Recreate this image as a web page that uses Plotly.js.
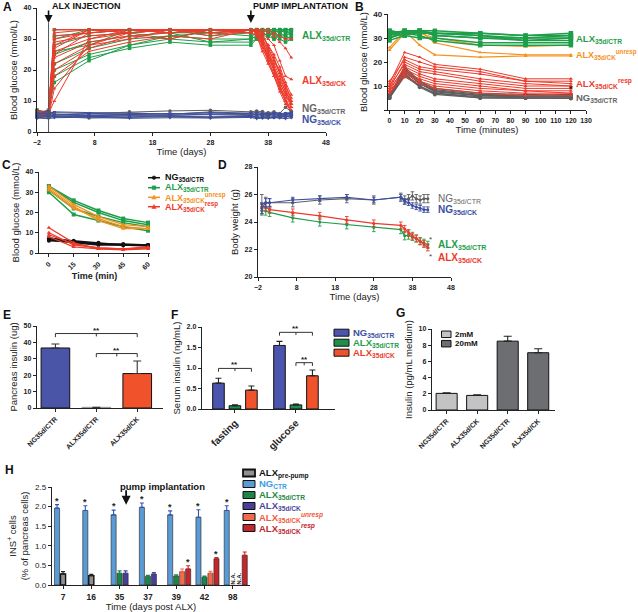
<!DOCTYPE html>
<html>
<head>
<meta charset="utf-8">
<script src="https://cdn.plot.ly/plotly-3.0.1.min.js"></script>
<style>html,body{margin:0;padding:0;background:#fff;}#chart{width:638px;height:612px;}</style>
</head>
<body>
<div id="chart"></div>
<script>
// ================= DATA =================
// Panel A: blood glucose (mmol/L) per mouse over days
const tA = [-2, 0, 1, 7, 14, 21, 28, 35, 36, 37, 38, 39, 40, 41, 42];
const aALXCTR = [
  [6, 6, 33, 33, 33, 33, 33, 33, 33, 33, 33, 33, 33, 33, 33],
  [5, 6, 31, 32, 33, 33, 33, 33, 33, 32, 33, 33, 33, 33, 33],
  [7, 5, 28, 31, 32, 33, 31, 32, 33, 33, 32, 33, 32, 33, 33],
  [6, 7, 25, 29, 31, 32, 32, 33, 32, 33, 33, 31, 33, 32, 32],
  [5, 6, 22, 27, 30, 31, 30, 30, 31, 32, 31, 32, 31, 30, 31],
  [6, 5, 20, 25, 28, 30, 29, 29, 30, 31, 32, 30, 31, 31, 32],
  [7, 6, 18, 24, 27, 29, 28, 28, 30, 32, 31, 32, 30, 29, 30],
  [5, 7, 16, 23, 28, 31, 32, 31, 30, 29, 31, 30, 32, 31, 30],
  [6, 6, 30, 33, 32, 30, 33, 32, 33, 32, 31, 33, 32, 33, 31],
  [6, 5, 26, 28, 33, 32, 29, 30, 33, 33, 33, 32, 33, 32, 33]
];
const aALXCK = [
  [6, 7, 33, 33, 33, 33, 33, 33, 33, 31, 28, 24, 19, 14, 9],
  [5, 6, 32, 33, 33, 33, 33, 33, 32, 29, 25, 21, 16, 12, 8],
  [7, 5, 30, 32, 33, 33, 33, 33, 33, 30, 26, 22, 18, 13, 10],
  [6, 6, 29, 31, 32, 33, 33, 32, 31, 27, 23, 19, 14, 10, 7],
  [5, 7, 27, 33, 33, 32, 33, 33, 32, 28, 24, 20, 15, 11, 6],
  [6, 6, 26, 30, 32, 33, 31, 33, 33, 32, 27, 23, 20, 15, 11],
  [7, 6, 24, 29, 31, 32, 33, 33, 32, 30, 26, 21, 17, 13, 9],
  [5, 5, 22, 28, 30, 33, 32, 32, 31, 26, 22, 18, 14, 10, 8],
  [6, 7, 20, 27, 31, 30, 33, 33, 33, 31, 28, 25, 21, 16, 12],
  [6, 6, 18, 26, 29, 31, 30, 33, 32, 29, 24, 20, 16, 12, 9],
  [7, 5, 14, 28, 32, 33, 32, 33, 33, 30, 27, 23, 19, 15, 10],
  [5, 6, 10, 30, 33, 33, 33, 32, 33, 33, 32, 31, 29, 27, 24],
  [6, 7, 31, 32, 33, 32, 33, 33, 33, 32, 30, 28, 23, 18, 17],
  [6, 6, 33, 33, 33, 33, 33, 33, 33, 33, 33, 32, 31, 30, 30],
  [5, 6, 28, 33, 32, 33, 33, 33, 33, 29, 25, 20, 15, 10, 6],
  [7, 6, 25, 32, 33, 33, 32, 33, 32, 28, 23, 18, 13, 9, 7]
];
const aNGCTR = [
  [5.2, 5.0, 5.1, 4.8, 5.3, 5.0, 4.9, 5.1, 5.0, 4.8, 5.2, 5.0, 4.9, 5.1, 5.3],
  [6.0, 5.8, 5.5, 5.9, 6.2, 5.7, 6.5, 6.0, 6.2, 5.9, 6.1, 5.8, 5.6, 6.0, 5.9],
  [4.6, 4.8, 5.0, 4.5, 4.7, 4.9, 4.6, 5.0, 4.8, 4.6, 4.9, 4.7, 4.8, 5.0, 4.8],
  [7.0, 6.5, 6.2, 6.0, 6.5, 6.8, 7.0, 6.5, 6.8, 6.6, 6.2, 6.5, 6.0, 8.0, 6.5],
  [5.5, 6.2, 5.8, 5.2, 5.6, 5.4, 5.8, 5.6, 5.3, 5.7, 5.5, 5.9, 5.4, 5.6, 5.8]
];
const aNGCK = [
  [5.5, 6.8, 5.5, 5.8, 5.6, 6.0, 5.8, 6.1, 5.5, 5.8, 5.6, 5.9, 5.7, 5.8, 6.0],
  [4.6, 5.0, 4.8, 5.0, 4.9, 5.2, 4.8, 5.0, 4.6, 4.8, 4.5, 4.8, 4.7, 5.0, 5.2],
  [6.2, 5.8, 6.5, 6.2, 6.0, 5.8, 6.3, 5.9, 6.4, 6.0, 5.8, 6.2, 5.9, 6.1, 6.3],
  [5.0, 5.5, 5.2, 5.4, 5.5, 5.4, 5.6, 5.3, 5.8, 5.2, 5.3, 5.5, 5.2, 5.4, 5.6],
  [4.5, 4.3, 4.6, 4.8, 4.4, 4.6, 4.5, 4.7, 4.3, 4.5, 4.4, 4.6, 4.5, 4.3, 4.6]
];

// Panel B: glucose tolerance (minutes)
const tB = [0, 10, 20, 30, 60, 90, 120];
const bALXCTR = [
  [33, 32, 33, 32, 31, 30, 30], [32, 33, 33, 33, 32, 31, 31], [31, 33, 32, 32, 31, 29, 29],
  [30, 33, 33, 31, 30, 30, 31], [29, 31, 30, 30, 28, 28, 28], [33, 32, 32, 32, 32, 31, 32],
  [30, 32, 31, 29, 27, 27, 27], [32, 31, 33, 31, 30, 29, 30]
];
const bUnresp = [
  [25, 32, 33, 28, 24, 23, 23], [26, 33, 27, 23, 22, 22.5, 22.5], [31, 33, 32, 30, 27, 26.5, 27]
];
const bResp = [
  [11, 24, 22, 19, 17, 13, 13], [10, 22, 20, 18, 16, 12, 12], [12, 21, 18, 17, 15, 12, 11],
  [9, 20, 17, 16, 13, 11, 10], [10, 19, 16, 15, 12, 10, 10], [8, 18, 15, 13, 11, 9, 9],
  [9, 17, 14, 12, 10, 8, 8], [7, 16, 13, 11, 9, 8, 7], [8, 15, 12, 10, 8, 7, 7], [7, 14, 11, 9, 7, 6, 6]
];
const bNGCTR = [
  [6, 17, 12, 8, 6, 6, 6], [5, 16, 11, 8, 6, 5.5, 5.5], [5.5, 15, 10, 7, 5.5, 5, 5],
  [6, 18, 12, 9, 7, 6.5, 6], [5, 14, 10, 7, 5, 5, 5], [6.5, 16, 11, 8.5, 6.5, 6, 6.5],
  [5, 15, 9.5, 6.5, 5, 5, 4.8], [6, 17, 11, 7.5, 6, 5.5, 5.5]
];

// Panel C: insulin tolerance (min)
const tC = [0, 15, 30, 45, 60];
const cNGCTR = [[7, 6, 5, 4, 4], [6, 5.5, 4.5, 4, 4], [6.5, 5, 4, 4, 3.5], [7.5, 5.5, 4.5, 4.5, 4]];
const cALXCTR = [[33, 25, 20, 16, 14], [30, 19, 16, 13, 11], [33, 26, 21, 17, 15], [31, 22, 18, 15, 13]];
const cUnresp = [[33, 24, 18, 14, 13], [31, 22, 17, 13, 12], [32, 23, 16, 12, 12]];
const cResp = [[12.5, 5, 2, 2, 2.5], [10, 4, 2.5, 2, 2.5], [8, 3, 2, 1.5, 2], [9, 4.5, 2.5, 2, 3]];

// Panel D: body weight (g), mean and error
const tD = [-1, 0, 1, 7, 14, 21, 28, 35, 36, 37, 38, 39, 40, 41, 42];
const dNGCTR = [25.3, 25.4, 25.4, 25.4, 25.6, 25.7, 25.6, 25.8, 25.6, 25.7, 25.9, 25.7, 25.6, 25.7, 25.7];
const dNGCTRerr = [0.7, 0.4, 0.3, 0.3, 0.3, 0.3, 0.3, 0.3, 0.3, 0.3, 0.3, 0.3, 0.3, 0.3, 0.3];
const dNGCK = [25.0, 25.4, 25.4, 25.6, 25.7, 25.8, 25.6, 25.8, 25.5, 25.4, 25.2, 25.1, 25.0, 24.9, 24.9];
const dNGCKerr = [0.4, 0.3, 0.3, 0.2, 0.2, 0.2, 0.2, 0.2, 0.2, 0.2, 0.2, 0.2, 0.2, 0.2, 0.2];
const dALXCTR = [24.8, 24.8, 24.7, 24.3, 24.0, 23.8, 23.6, 23.45, 23.0, 23.05, 22.9, 22.8, 22.6, 22.5, 22.35];
const dALXCTRerr = [0.3, 0.3, 0.3, 0.3, 0.3, 0.3, 0.3, 0.3, 0.3, 0.3, 0.25, 0.25, 0.25, 0.25, 0.25];
const dALXCK = [25.1, 25.1, 24.9, 24.7, 24.45, 24.15, 23.9, 23.75, 23.5, 23.2, 23.0, 22.8, 22.6, 22.4, 22.15];
const dALXCKerr = [0.25, 0.25, 0.25, 0.25, 0.25, 0.25, 0.25, 0.25, 0.25, 0.25, 0.25, 0.25, 0.25, 0.25, 0.25];

// Panel E: pancreas insulin (ug)
const eCats = ['NG35d/CTR', 'ALX35d/CTR', 'ALX35d/CK'];
const eVals = [36.6, 0.4, 21.0];
const eErr = [2.4, 0.1, 7.7];

// Panel F: serum insulin (ng/mL)
const fCats = ['fasting', 'glucose'];
const fNGCTR = [0.63, 1.55], fNGCTRerr = [0.12, 0.10];
const fALXCTR = [0.08, 0.10], fALXCTRerr = [0.02, 0.02];
const fALXCK = [0.46, 0.81], fALXCKerr = [0.10, 0.14];

// Panel G: insulin (pg/mL medium)
const gCats = ['NG35d/CTR', 'ALX35d/CK', 'NG35d/CTR', 'ALX35d/CK'];
const g2mM = [2.05, 1.8], g2mMerr = [0.08, 0.08];
const g20mM = [8.5, 7.07], g20mMerr = [0.6, 0.5];

// Panel H: INS+ cells (% of pancreas cells)
const hDays = ['7', '16', '35', '37', '39', '42', '98'];
const hNG = [1.96, 1.90, 1.79, 1.98, 1.79, 1.73, 1.90];
const hNGerr = [0.09, 0.12, 0.12, 0.11, 0.10, 0.19, 0.12];
const hPre = [0.28, 0.24, null, null, null, null, null];
const hPreErr = [0.06, 0.03, null, null, null, null, null];
const hCTR = [null, null, 0.30, 0.22, 0.23, 0.20, 'N.A.'];
const hCTRerr = [null, null, 0.06, 0.03, 0.03, 0.03, null];
const hCK = [null, null, 0.30, 0.28, null, null, null];
const hCKerr = [null, null, 0.06, 0.04, null, null, null];
const hUnresp = [null, null, null, null, 0.34, 0.30, 'N.A.'];
const hUnrespErr = [null, null, null, null, 0.07, 0.05, null];
const hResp = [null, null, null, null, 0.41, 0.67, 0.76];
const hRespErr = [null, null, null, null, 0.08, 0.03, 0.08];
const hSigNG = [true, true, true, true, true, true, true];
const hSigResp = [false, false, false, false, true, true, false];

// ================= STYLE =================
const W = 638, H = 612;
const FONT = 'Liberation Sans, Arial, sans-serif';
const GREEN = '#1f9e4a', RED = '#ee3a2b', ORANGE = '#f6921e', GRAY = '#5e5e5e', BLUE = '#3d4fa3', BLACK = '#111111';
const dx = (a, b) => [a / W, b / W];
const dy = (top, bot) => [1 - bot / H, 1 - top / H];
const px = v => v / W, py = v => 1 - v / H;

const traces = [];
const shapes = [];
const annotations = [];

function lineGroup(rows, t, color, symbol, xa, ya, size, lw) {
  rows.forEach(r => traces.push({
    type: 'scatter', mode: 'lines+markers', x: t, y: r, xaxis: xa, yaxis: ya,
    line: {color: color, width: lw || 1}, marker: {color: color, size: size || 3.5, symbol: symbol},
    showlegend: false, cliponaxis: false, hoverinfo: 'skip'
  }));
}
// A
lineGroup(aALXCTR, tA, GREEN, 'square', 'x', 'y', 3.5, 1);
lineGroup(aALXCK, tA, RED, 'triangle-up', 'x', 'y', 3.5, 1);
lineGroup(aNGCTR, tA, GRAY, 'circle', 'x', 'y', 3.5, 1);
lineGroup(aNGCK, tA, BLUE, 'triangle-down', 'x', 'y', 3.5, 1);
// B
lineGroup(bNGCTR, tB, GRAY, 'circle', 'x2', 'y2', 4, 1.2);
lineGroup(bResp, tB, RED, 'triangle-up', 'x2', 'y2', 3.5, 1);
lineGroup(bUnresp, tB, ORANGE, 'triangle-up', 'x2', 'y2', 3.5, 1.2);
lineGroup(bALXCTR, tB, GREEN, 'square', 'x2', 'y2', 4.5, 1.5);
// C
lineGroup(cALXCTR, tC, GREEN, 'square', 'x3', 'y3', 4, 1.5);
lineGroup(cUnresp, tC, ORANGE, 'triangle-up', 'x3', 'y3', 4, 1.3);
lineGroup(cNGCTR, tC, BLACK, 'circle', 'x3', 'y3', 4, 1.5);
lineGroup(cResp, tC, RED, 'triangle-up', 'x3', 'y3', 4, 1.2);
// D
[[dALXCTR, dALXCTRerr, GREEN], [dALXCK, dALXCKerr, RED], [dNGCTR, dNGCTRerr, GRAY], [dNGCK, dNGCKerr, BLUE]].forEach(s => {
  traces.push({type: 'scatter', mode: 'lines+markers', x: tD, y: s[0], xaxis: 'x4', yaxis: 'y4',
    line: {color: s[2], width: 1.2}, marker: {color: s[2], size: 3},
    error_y: {type: 'data', array: s[1], color: s[2], thickness: 0.9, width: 1.8},
    showlegend: false, cliponaxis: false, hoverinfo: 'skip'});
});

// bar helpers
function upErr(arr, color, w) {
  return {type: 'data', symmetric: false, array: arr, arrayminus: arr.map(() => 0), color: color, thickness: 1.1, width: w};
}
// E
traces.push({type: 'bar', x: eCats.map((_, i) => i), y: eVals, width: 0.7, xaxis: 'x5', yaxis: 'y5',
  marker: {color: ['#4b55a8', '#1f8f4a', '#f0522c'], line: {color: ['#111', '#999', '#111'], width: 1}},
  error_y: upErr(eErr, '#333', 4), showlegend: false, hoverinfo: 'skip'});
// F
const fSeries = [[fNGCTR, fNGCTRerr, '#4b55ad'], [fALXCTR, fALXCTRerr, '#1f8f4a'], [fALXCK, fALXCKerr, '#f0522c']];
fSeries.forEach((s, si) => traces.push({type: 'bar', x: fCats.map((_, i) => i + (si - 1) * 0.27), y: s[0], width: 0.19,
  xaxis: 'x6', yaxis: 'y6', marker: {color: s[2], line: {color: '#111', width: 1}},
  error_y: upErr(s[1], '#222', 3), showlegend: false, hoverinfo: 'skip'}));
// G
traces.push({type: 'bar', x: [0, 1], y: g2mM, width: 0.69, xaxis: 'x7', yaxis: 'y7',
  marker: {color: '#c3c3c5', line: {color: '#111', width: 1}}, error_y: upErr(g2mMerr, '#222', 4), showlegend: false, hoverinfo: 'skip'});
traces.push({type: 'bar', x: [2, 3], y: g20mM, width: 0.69, xaxis: 'x7', yaxis: 'y7',
  marker: {color: '#6d6e72', line: {color: '#111', width: 1}}, error_y: upErr(g20mMerr, '#222', 4), showlegend: false, hoverinfo: 'skip'});
// H: slot order within each day group
const hSlotOrder = [
  {v: hNG, e: hNGerr, c: '#5a9bd6', ec: '#3450b0', lc: '#222'},
  {v: hPre, e: hPreErr, c: '#909090', ec: '#222', lc: '#111'},
  {v: hCTR, e: hCTRerr, c: '#1e8449', ec: '#1e8449', lc: '#222'},
  {v: hCK, e: hCKerr, c: '#4a3f98', ec: '#4a3f98', lc: '#222'},
  {v: hUnresp, e: hUnrespErr, c: '#f26b4c', ec: '#f26b4c', lc: '#222'},
  {v: hResp, e: hRespErr, c: '#c1272d', ec: '#c1272d', lc: '#222'}
];
const SLOT = 0.212, HBW = 0.18;
hSlotOrder.forEach(s => s.x = hDays.map(() => null));
hDays.forEach((d, g) => {
  let k = 0;
  hSlotOrder.forEach(s => { if (s.v[g] !== null) { s.x[g] = g + (k - 1) * SLOT; k++; } });
});
hSlotOrder.forEach(s => {
  const yv = s.v.map(v => (typeof v === 'number' ? v : null));
  const ev = s.e.map(v => (v === null ? 0 : v));
  traces.push({type: 'bar', x: s.x, y: yv, width: HBW, xaxis: 'x8', yaxis: 'y8',
    marker: {color: s.c, line: {color: s.lc, width: s.v === hPre ? 1.4 : 0.6}},
    error_y: upErr(ev, s.ec, 2), showlegend: false, hoverinfo: 'skip'});
  s.v.forEach((v, g) => { if (v === 'N.A.') annotations.push({xref: 'x8', yref: 'y8', x: s.x[g], y: 0.15, text: 'N.A.', textangle: -90, showarrow: false, font: {family: FONT, size: 6, color: '#222', weight: 'bold'}}); });
});
function star(xa, ya, x, y, size) {
  annotations.push({xref: xa, yref: ya, x: x, y: y, text: '*', showarrow: false, yanchor: 'bottom', yshift: -3, font: {family: FONT, size: size || 9, color: '#222', weight: 'bold'}});
}
hDays.forEach((d, g) => {
  if (hSigNG[g]) star('x8', 'y8', hSlotOrder[0].x[g], hNG[g] + hNGerr[g]);
  if (hSigResp[g]) star('x8', 'y8', hSlotOrder[5].x[g], hResp[g] + hRespErr[g]);
});

// ================= AXES =================
const tickF = {family: FONT, size: 7, color: '#222', weight: 'bold'};
const titleF = {family: FONT, size: 9.5, color: '#222'};
function axis(o) {
  return Object.assign({showgrid: false, zeroline: false, showline: true, linecolor: '#222', linewidth: 1.3,
    ticks: 'outside', ticklen: 3, tickwidth: 1, tickcolor: '#222', tickfont: tickF, fixedrange: true}, o);
}
const layout = {
  width: W, height: H, margin: {l: 0, r: 0, t: 0, b: 0}, paper_bgcolor: '#fff', plot_bgcolor: 'rgba(0,0,0,0)',
  barmode: 'overlay', showlegend: false, font: {family: FONT},
  xaxis: axis({domain: dx(37, 326), anchor: 'y', range: [-2, 48], tickvals: [-2, 8, 18, 28, 38, 48], title: {text: 'Time (days)', font: titleF, standoff: 3}}),
  yaxis: axis({domain: dy(8, 132), anchor: 'x', range: [0, 40], tickvals: [0, 10, 20, 30, 40], title: {text: 'Blood glucose (mmol/L)', font: titleF, standoff: 4}}),
  xaxis2: axis({domain: dx(388, 586), anchor: 'y2', range: [-1, 130], tickvals: [0, 10, 20, 30, 40, 50, 60, 70, 80, 90, 100, 110, 120, 130], title: {text: 'Time (minutes)', font: titleF, standoff: 3}}),
  yaxis2: axis({domain: dy(14, 110), anchor: 'x2', range: [0, 40], tickvals: [0, 10, 20, 30, 40], ticktext: ['', '10', '20', '30', '40'], tickfont: Object.assign({}, tickF, {size: 8}), title: {text: 'Blood glucose (mmol/L)', font: titleF, standoff: 4}}),
  xaxis3: axis({domain: dx(39, 150), anchor: 'y3', range: [-6, 61.2], tickvals: [0, 15, 30, 45, 60], tickangle: -45, title: {text: 'Time (min)', font: Object.assign({}, titleF, {weight: 'bold', size: 9}), standoff: 2}}),
  yaxis3: axis({domain: dy(172, 253), anchor: 'x3', range: [0, 40], tickvals: [0, 10, 20, 30, 40], title: {text: 'Blood glucose (mmol/L)', font: titleF, standoff: 4}}),
  xaxis4: axis({domain: dx(258, 451), anchor: 'y4', range: [-2, 48], tickvals: [-2, 8, 18, 28, 38, 48], title: {text: 'Time (days)', font: titleF, standoff: 3}}),
  yaxis4: axis({domain: dy(167, 277), anchor: 'x4', range: [20, 28], tickvals: [20, 22, 24, 26, 28], title: {text: 'Body weight (g)', font: titleF, standoff: 4}}),
  xaxis5: axis({domain: dx(37, 163), anchor: 'y5', range: [-0.45, 2.63], tickvals: [0, 1, 2], ticktext: eCats, tickangle: -45}),
  yaxis5: axis({domain: dy(326, 408), anchor: 'x5', range: [0, 50], tickvals: [0, 10, 20, 30, 40, 50], title: {text: 'Pancreas insulin (ug)', font: titleF, standoff: 4}}),
  xaxis6: axis({domain: dx(202, 335), anchor: 'y6', range: [-0.54, 1.64], tickvals: [0, 1], ticktext: fCats, tickangle: -45, tickfont: Object.assign({}, tickF, {size: 10})}),
  yaxis6: axis({domain: dy(327, 409), anchor: 'x6', range: [0, 2], tickvals: [0, 0.5, 1, 1.5, 2], tickformat: '.1f', title: {text: 'Serum insulin (ng/mL)', font: titleF, standoff: 4}}),
  xaxis7: axis({domain: dx(432, 555), anchor: 'y7', range: [-0.48, 3.55], tickvals: [0, 1, 2, 3], ticktext: gCats, tickangle: -45}),
  yaxis7: axis({domain: dy(329, 410), anchor: 'x7', range: [0, 10], tickvals: [0, 2, 4, 6, 8, 10], title: {text: 'Insulin (pg/mL medium)', font: titleF, standoff: 4}}),
  xaxis8: axis({domain: dx(52, 250), anchor: 'y8', range: [-0.39, 6.61], tickvals: hDays.map((_, i) => i), ticktext: hDays, tickfont: Object.assign({}, tickF, {size: 8.5}), title: {text: 'Time (days post ALX)', font: titleF, standoff: 3}}),
  yaxis8: axis({domain: dy(487, 585), anchor: 'x8', range: [0, 2.5], tickvals: [0, 0.5, 1, 1.5, 2, 2.5], tickformat: '.1f', tickfont: Object.assign({}, tickF, {size: 8, weight: 'normal'}), title: {text: 'INS<sup>+</sup> cells<br>(% of pancreas cells)', font: titleF, standoff: 4}}),
  shapes: shapes, annotations: annotations
};

// ================= ANNOTATIONS =================
function pann(text, x, y, o) {
  annotations.push(Object.assign({xref: 'paper', yref: 'paper', x: px(x), y: py(y), text: text, showarrow: false,
    font: {family: FONT, size: 11, color: '#111', weight: 'bold'}}, o));
}
// panel letters
[['A', 7, 7], ['B', 359, 7], ['C', 6.5, 165], ['D', 222, 165], ['E', 6.5, 315], ['F', 174, 315], ['G', 400, 313], ['H', 9, 470]]
  .forEach(l => pann(l[0], l[1], l[2], {xanchor: 'center', yanchor: 'middle', font: {family: FONT, size: 12, color: '#111', weight: 'bold'}}));

function dann(xa, ya, x, y, text, color, size, bold) {
  annotations.push({xref: xa, yref: ya, x: x, y: y, text: text, showarrow: false, xanchor: 'left', yanchor: 'middle',
    font: {family: FONT, size: size || 10, color: color, weight: bold === false ? 'normal' : 'bold'}});
}
// A
pann('ALX INJECTION', 50, 6, {xanchor: 'left', yanchor: 'middle', font: {family: FONT, size: 9, color: '#111', weight: 'bold'}});
pann('PUMP IMPLANTATION', 251, 6, {xanchor: 'left', yanchor: 'middle', font: {family: FONT, size: 9, color: '#111', weight: 'bold'}});
[0, 35].forEach(xv => annotations.push({xref: 'x', yref: 'y', x: xv, y: 35.2, ax: 0, ay: -14, showarrow: true, arrowhead: 2, arrowsize: 1, arrowwidth: 1.6, arrowcolor: '#111', text: ''}));
shapes.push({type: 'line', xref: 'x', yref: 'y', x0: 0, x1: 0, y0: 0, y1: 35.2, line: {color: '#555', width: 1}});
dann('x', 'y', 43.5, 31, 'ALX<sub>35d/CTR</sub>', GREEN);
dann('x', 'y', 43.5, 16.5, 'ALX<sub>35d/CK</sub>', RED);
dann('x', 'y', 43.5, 7.3, 'NG<sub>35d/CTR</sub>', '#666');
dann('x', 'y', 43.5, 4.0, 'NG<sub>35d/CK</sub>', BLUE);
// B
dann('x2', 'y2', 122, 29.6, 'ALX<sub>35d/CTR</sub>', GREEN, 9.5);
dann('x2', 'y2', 122, 23.3, 'ALX<sub>35d/CK</sub><sup>unresp</sup>', ORANGE, 9);
dann('x2', 'y2', 122, 11.0, 'ALX<sub>35d/CK</sub><sup>resp</sup>', RED, 9.5);
dann('x2', 'y2', 122, 5.0, 'NG<sub>35d/CTR</sub>', '#666', 9.5);
annotations.push({xref: 'x2', yref: 'y2', x: 120, y: 8.7, text: '*', showarrow: false, font: {family: FONT, size: 9, color: '#222', weight: 'bold'}});
// C
annotations.push({xref: 'x3', yref: 'y3', x: 64, y: 2.2, text: '*', showarrow: false, font: {family: FONT, size: 9, color: '#222', weight: 'bold'}});
// D
dann('x4', 'y4', 44, 25.65, 'NG<sub>35d/CTR</sub>', '#666', 10, false);
dann('x4', 'y4', 44, 24.85, 'NG<sub>35d/CK</sub>', BLUE);
dann('x4', 'y4', 44, 22.35, 'ALX<sub>35d/CTR</sub>', GREEN);
dann('x4', 'y4', 44, 21.4, 'ALX<sub>35d/CK</sub>', RED);
[22.75, 21.5].forEach(yv => annotations.push({xref: 'x4', yref: 'y4', x: 42.6, y: yv, text: '*', showarrow: false, font: {family: FONT, size: 8, color: '#444'}}));

// brackets
function bracket(xa, ya, x0, x1, xm, y, drop) {
  shapes.push({type: 'path', xref: xa, yref: ya,
    path: `M${x0},${y - drop} L${x0},${y} L${x1},${y} L${x1},${y - drop} M${xm},${y} L${xm},${y - drop * 0.8}`,
    line: {color: '#333', width: 1}});
  annotations.push({xref: xa, yref: ya, x: xm, y: y, text: '**', showarrow: false, yanchor: 'bottom', yshift: -3,
    font: {family: FONT, size: 8, color: '#222', weight: 'bold'}});
}
bracket('x5', 'y5', 0, 2, 1, 45.4, 2.2);
bracket('x5', 'y5', 1, 2, 1.5, 33.2, 2.2);
bracket('x6', 'y6', -0.27, 0.27, 0, 0.99, 0.08);
bracket('x6', 'y6', 0.73, 1.27, 1, 1.87, 0.08);
bracket('x6', 'y6', 1, 1.27, 1.135, 1.13, 0.08);

// H annotations
pann('pump implantation', 162, 486, {xanchor: 'center', yanchor: 'middle', font: {family: FONT, size: 9.5, color: '#111', weight: 'bold'}});
annotations.push({xref: 'x8', yref: 'y8', x: 2.23, y: 2.05, ax: 0, ay: -16, showarrow: true, arrowhead: 2, arrowsize: 1, arrowwidth: 1.8, arrowcolor: '#111', text: ''});

// ================= MANUAL LEGENDS =================
function legLine(x, y, color, sym, text) {
  shapes.push({type: 'line', xref: 'paper', yref: 'paper', x0: px(x), x1: px(x + 12), y0: py(y), y1: py(y), line: {color: color, width: 1.5}});
  const cx = x + 6, r = 1.8;
  if (sym === 'circle') shapes.push({type: 'circle', xref: 'paper', yref: 'paper', x0: px(cx - r), x1: px(cx + r), y0: py(y + r), y1: py(y - r), fillcolor: color, line: {color: color, width: 0.5}});
  else if (sym === 'square') shapes.push({type: 'rect', xref: 'paper', yref: 'paper', x0: px(cx - r), x1: px(cx + r), y0: py(y + r), y1: py(y - r), fillcolor: color, line: {color: color, width: 0.5}});
  else shapes.push({type: 'path', xref: 'paper', yref: 'paper', path: `M${px(cx - 2.2)},${py(y + 1.8)} L${px(cx + 2.2)},${py(y + 1.8)} L${px(cx)},${py(y - 2.2)} Z`, fillcolor: color, line: {color: color, width: 0.5}});
  pann(text, x + 15, y, {xanchor: 'left', yanchor: 'middle', font: {family: FONT, size: 9, color: color, weight: 'bold'}});
}
legLine(148, 177.7, BLACK, 'circle', 'NG<sub>35d/CTR</sub>');
legLine(148, 187.7, GREEN, 'square', 'ALX<sub>35d/CTR</sub>');
legLine(148, 197.3, ORANGE, 'triangle', 'ALX<sub>35d/CK</sub><sup>unresp</sup>');
legLine(148, 206.7, RED, 'triangle', 'ALX<sub>35d/CK</sub><sup>resp</sup>');

function legBox(x, y, w, h, fill, text, tcolor, size, lw) {
  shapes.push({type: 'rect', xref: 'paper', yref: 'paper', x0: px(x), x1: px(x + w), y0: py(y + h / 2), y1: py(y - h / 2), fillcolor: fill, line: {color: '#111', width: lw || 1}});
  pann(text, x + w + 2, y, {xanchor: 'left', yanchor: 'middle', font: {family: FONT, size: size, color: tcolor, weight: 'bold'}});
}
legBox(334, 332.7, 15, 7, '#4b55ad', 'NG<sub>35d/CTR</sub>', '#3d4fa3', 9.5);
legBox(334, 342.7, 15, 7, '#1f8f4a', 'ALX<sub>35d/CTR</sub>', '#1f9e4a', 9.5);
legBox(334, 352.7, 15, 7, '#f0522c', 'ALX<sub>35d/CK</sub>', '#ee3a2b', 9.5);
legBox(441.5, 334.3, 9.5, 6.5, '#c3c3c5', '2mM', '#111', 8);
legBox(441.5, 343.7, 9.5, 6.5, '#6d6e72', '20mM', '#111', 8);
legBox(243, 473, 12, 7, '#909090', 'ALX<sub>pre-pump</sub>', '#111', 9.5, 1.8);
legBox(243, 484, 12, 7, '#5a9bd6', 'NG<sub>CTR</sub>', '#3a9ee4', 9.5);
legBox(243, 495, 12, 7, '#1e8449', 'ALX<sub>35d/CTR</sub>', '#1e8a45', 9.5);
legBox(243, 506, 12, 7, '#4a3f98', 'ALX<sub>35d/CK</sub>', '#4b46a0', 9.5);
legBox(243, 517, 12, 7, '#f26b4c', 'ALX<sub>35d/CK</sub><sup><i>unresp</i></sup>', '#f05a3c', 9.5);
legBox(243, 528, 12, 7, '#c1272d', 'ALX<sub>35d/CK</sub><sup><i>resp</i></sup>', '#c1272d', 9.5);

Plotly.newPlot('chart', traces, layout, {staticPlot: true, displayModeBar: false});
</script>
</body>
</html>
